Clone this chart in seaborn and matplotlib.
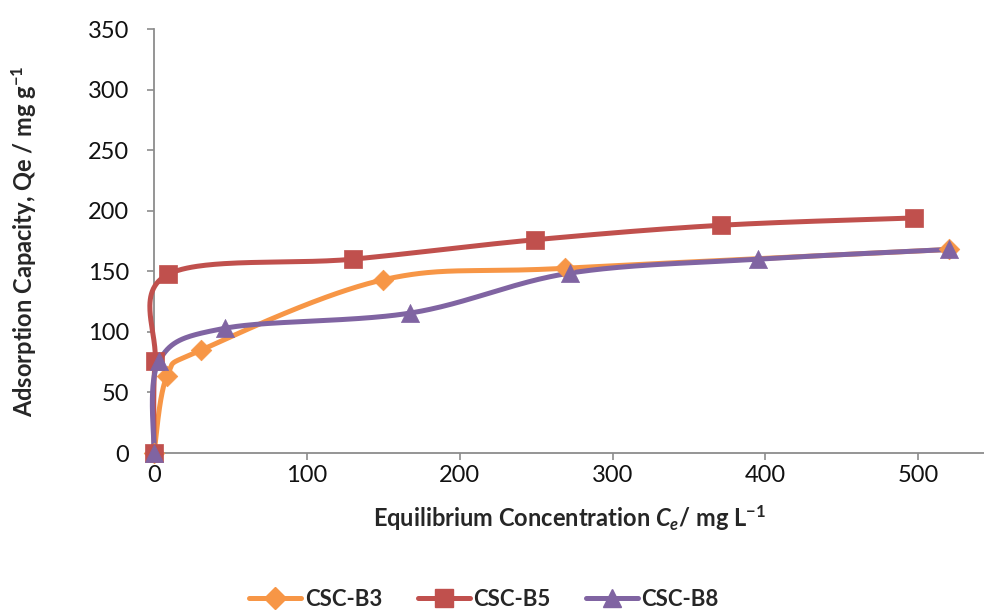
import numpy as np
import pandas as pd
import matplotlib
matplotlib.use("Agg")
import matplotlib.pyplot as plt
from matplotlib.lines import Line2D
import seaborn as sns

# Isotherm data: equilibrium concentration (mg/L) vs adsorption capacity (mg/g)
b3_ce = [0, 8.5, 31, 150, 269, 520]
b3_qe = [0, 63.5, 85, 143, 152.5, 168]
b5_ce = [0, 0.7, 9.2, 130, 249, 371, 497]
b5_qe = [0, 76, 147.5, 160, 176, 188, 194]
b8_ce = [0, 3.3, 46.5, 167.5, 272, 395, 520]
b8_qe = [0, 76, 103, 115.5, 148.5, 160, 168]

series_names = ["CSC-B3", "CSC-B5", "CSC-B8"]
colors = ["#F79646", "#C0504D", "#8064A2"]
markers = ["D", "s", "^"]
x_ticks = [0, 100, 200, 300, 400, 500]
y_ticks = [0, 50, 100, 150, 200, 250, 300, 350]


def smooth_curve(x, y, n=60):
    """Catmull-Rom style smoothing through every point (Bezier form)."""
    p = np.column_stack([x, y]).astype(float)
    p = np.vstack([p[0], p, p[-1]])
    out = []
    t = np.linspace(0, 1, n)[:, None]
    for i in range(1, len(p) - 2):
        p0, p1, p2, p3 = p[i - 1], p[i], p[i + 1], p[i + 2]
        c1 = p1 + (p2 - p0) / 6.0
        c2 = p2 - (p3 - p1) / 6.0
        seg = ((1 - t) ** 3) * p1 + 3 * ((1 - t) ** 2) * t * c1 \
            + 3 * (1 - t) * t ** 2 * c2 + t ** 3 * p2
        out.append(seg if i == 1 else seg[1:])
    out = np.vstack(out)
    return out[:, 0], out[:, 1]


sns.set_style("white")
plt.rcParams["font.family"] = ["Lato", "DejaVu Sans"]
plt.rcParams["mathtext.fontset"] = "custom"
plt.rcParams["mathtext.rm"] = "Lato:bold"
plt.rcParams["mathtext.bf"] = "Lato:bold"
plt.rcParams["mathtext.it"] = "Lato:italic:bold"

fig = plt.figure(figsize=(9.84, 6.10), dpi=100)
ax = fig.add_axes([154 / 984, (610 - 453) / 610, 1 - 154 / 984, (453 - 29) / 610])

data = [(b3_ce, b3_qe), (b5_ce, b5_qe), (b8_ce, b8_qe)]
msizes = [110, 150, 170]
for (xs, ys), name, col, mk, ms in zip(data, series_names, colors, markers, msizes):
    sx, sy = smooth_curve(xs, ys)
    curve = pd.DataFrame({"Ce": sx, "Qe": sy})
    sns.lineplot(data=curve, x="Ce", y="Qe", sort=False, estimator=None,
                 color=col, linewidth=3.6, ax=ax, clip_on=False, zorder=3)
    pts = pd.DataFrame({"Ce": xs, "Qe": ys})
    sns.scatterplot(data=pts, x="Ce", y="Qe", marker=mk, s=ms, color=col,
                    edgecolor=col, linewidth=0.5, ax=ax, clip_on=False, zorder=4)

ax.set_xlim(0, 543)
ax.set_ylim(0, 350)
ax.set_xticks(x_ticks)
ax.set_yticks(y_ticks)
ax.tick_params(axis="both", which="major", labelsize=17, length=5, width=1.2,
               color="#8c8c8c", labelcolor="#111111", direction="out",
               bottom=True, left=True)
ax.tick_params(axis="x", pad=4)
ax.tick_params(axis="y", pad=13)
for side in ["top", "right"]:
    ax.spines[side].set_visible(False)
for side in ["left", "bottom"]:
    ax.spines[side].set_color("#8c8c8c")
    ax.spines[side].set_linewidth(1.3)

ax.set_xlabel("Equilibrium Concentration $\\mathit{C_e}$/ mg L$^{-1}$",
              fontsize=17, fontweight="bold", labelpad=12)
ax.set_ylabel("Adsorption Capacity, Qe / mg g$^{-1}$",
              fontsize=17, fontweight="bold")
ax.yaxis.set_label_coords(-0.139, 0.5)

handles = [Line2D([0], [0], color=c, lw=3.6, marker=m, markersize=ms, label=n)
           for c, m, n, ms in zip(colors, markers, series_names, [11, 13, 13])]
leg = fig.legend(handles=handles, loc="center", bbox_to_anchor=(484 / 984, 1 - 599 / 610),
                 ncol=3, frameon=False, handlelength=2.35, columnspacing=1.6,
                 handletextpad=0.15, prop={"weight": "bold", "size": 16})

fig.savefig("out.png", dpi=100)
